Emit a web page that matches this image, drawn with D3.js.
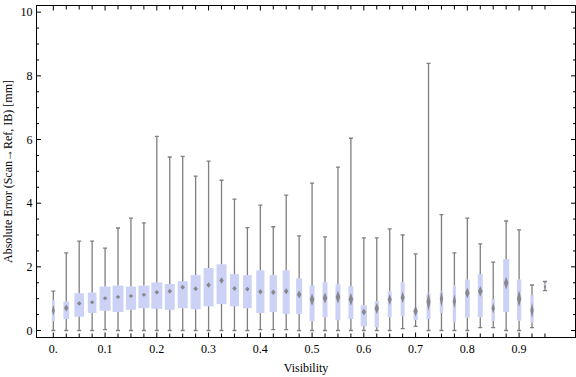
<!DOCTYPE html>
<html>
<head>
<meta charset="utf-8">
<script src="https://cdn.jsdelivr.net/npm/d3@7"></script>
<style>
  body { margin: 0; background: #fff; }
  text { font-family: "Liberation Serif", "DejaVu Serif", serif; fill: #000; }
  .frame { fill: none; stroke: #000; stroke-width: 1; }
  .tick line { stroke: #000; }
  .box { fill: #ccd2f5; }
  .whisker { stroke: #7f7f7f; stroke-width: 1.3; fill: none; }
  .diamond { fill: #7a7a7a; fill-opacity: 0.85; }
</style>
</head>
<body>
<div class="contents"></div>
<script>
// visibility bins (x categories)
var visibility = [0, 0.025, 0.05, 0.075, 0.1, 0.125, 0.15, 0.175, 0.2, 0.225,
                  0.25, 0.275, 0.3, 0.325, 0.35, 0.375, 0.4, 0.425, 0.45, 0.475,
                  0.5, 0.525, 0.55, 0.575, 0.6, 0.625, 0.65, 0.675, 0.7, 0.725,
                  0.75, 0.775, 0.8, 0.825, 0.85, 0.875, 0.9, 0.925, 0.95];

// whisker ends
var whiskerLow = [0, 0, 0, 0, 0.03, 0, 0, 0, 0, 0,
                  0, 0, 0, 0, 0, 0, 0.03, 0.03, 0.03, 0,
                  0, 0, 0, 0, 0, 0, 0, 0.06, 0.13, 0,
                  0, 0, 0, 0.09, 0.09, 0, 0, 0.09, 1.25];
var whiskerHigh = [1.24, 2.44, 2.81, 2.81, 2.59, 3.22, 3.53, 3.38, 6.10, 5.45,
                   5.47, 4.85, 5.32, 4.72, 4.13, 3.23, 3.94, 3.26, 4.25, 2.97,
                   4.63, 2.94, 5.13, 6.04, 2.91, 2.91, 3.19, 3.00, 2.41, 8.39,
                   3.64, 2.44, 3.53, 2.72, 2.15, 3.44, 3.16, 1.43, 1.54];

// quartiles
var q1 = [0.30, 0.36, 0.43, 0.55, 0.62, 0.58, 0.65, 0.70, 0.68, 0.65,
          0.70, 0.67, 0.76, 0.83, 0.76, 0.70, 0.55, 0.58, 0.52, 0.52,
          0.30, 0.42, 0.32, 0.36, 0.13, 0.10, 0.42, 0.45, 0.33, 0.36,
          0.55, 0.26, 0.40, 0.42, 0.30, 0.58, 0.31, 0.24, 1.30];
var q3 = [0.94, 0.91, 1.17, 1.19, 1.38, 1.41, 1.38, 1.41, 1.51, 1.46,
          1.55, 1.74, 1.96, 2.08, 1.77, 1.74, 1.89, 1.74, 1.89, 1.64,
          1.42, 1.52, 1.45, 1.39, 0.79, 0.92, 1.23, 1.52, 0.65, 1.17,
          1.23, 1.41, 1.60, 1.77, 0.99, 2.24, 1.60, 1.11, 1.47];

// mean and half height of its confidence diamond
var mean = [0.63, 0.71, 0.85, 0.89, 1.01, 1.05, 1.08, 1.12, 1.20, 1.23,
            1.36, 1.31, 1.43, 1.57, 1.32, 1.30, 1.22, 1.20, 1.23, 1.13,
            0.97, 1.02, 1.05, 0.98, 0.58, 0.69, 0.97, 1.04, 0.61, 0.90,
            0.99, 0.92, 1.18, 1.23, 0.70, 1.49, 1.00, 0.63, 1.37];
var meanCI = [0.17, 0.11, 0.074, 0.063, 0.063, 0.063, 0.063, 0.063, 0.07, 0.078,
              0.078, 0.078, 0.086, 0.10, 0.078, 0.078, 0.086, 0.086, 0.094, 0.126,
              0.19, 0.17, 0.20, 0.20, 0.11, 0.17, 0.17, 0.18, 0.17, 0.28,
              0.24, 0.22, 0.17, 0.17, 0.16, 0.20, 0.26, 0.24, 0.09];

// relative sample weight (box width)
var boxWeight = [0.27, 0.52, 0.88, 0.79, 1, 1, 0.91, 1, 1, 0.91,
                 0.91, 0.91, 0.91, 0.91, 0.82, 0.79, 0.75, 0.66, 0.64, 0.55,
                 0.45, 0.45, 0.45, 0.45, 0.57, 0.39, 0.36, 0.36, 0.39, 0.36,
                 0.3, 0.3, 0.43, 0.45, 0.3, 0.55, 0.39, 0.3, 0.21];

var xTickLabels = ["0.", "0.1", "0.2", "0.3", "0.4", "0.5", "0.6", "0.7", "0.8", "0.9"];
var yTicks = [0, 2, 4, 6, 8, 10];
var yMinorTicks = [0, 0.5, 1, 1.5, 2, 2.5, 3, 3.5, 4, 4.5, 5, 5.5, 6, 6.5, 7, 7.5, 8, 8.5, 9, 9.5, 10];

var xLabel = "Visibility",
    yLabel = "Absolute Error (Scan\u2192Ref, IB) [mm]";

var svgWidth = 576, svgHeight = 377;
var frame = { left: 36.5, right: 575.5, top: 5.5, bottom: 337.5 };

var svg = d3.select(".contents").append("svg")
    .attr("width", svgWidth)
    .attr("height", svgHeight);

var x = d3.scaleLinear()
    .domain([-0.0325, 1.009])
    .range([frame.left, frame.right]);

var y = d3.scaleLinear()
    .domain([-0.22, 10.21])
    .range([frame.bottom, frame.top]);

var boxW = d3.scaleLinear().domain([0, 1]).range([0, 11]);

var rows = visibility.map(function(v, i) {
    return {
        v: v, lo: whiskerLow[i], hi: whiskerHigh[i],
        q1: q1[i], q3: q3[i], mean: mean[i], ci: meanCI[i], w: boxW(boxWeight[i])
    };
});

// boxes
svg.append("g").selectAll("rect")
    .data(rows)
    .enter().append("rect")
    .attr("class", "box")
    .attr("x", function(d) { return x(d.v) - d.w / 2; })
    .attr("width", function(d) { return d.w; })
    .attr("y", function(d) { return y(d.q3); })
    .attr("height", function(d) { return y(d.q1) - y(d.q3); });

// whiskers with caps
var wg = svg.append("g").selectAll("g")
    .data(rows)
    .enter().append("g");

wg.append("path")
    .attr("class", "whisker")
    .attr("d", function(d) {
        var cx = x(d.v);
        return "M" + cx + "," + y(d.q3) + "V" + y(d.hi) +
               "M" + (cx - 2) + "," + y(d.hi) + "H" + (cx + 2) +
               "M" + cx + "," + y(d.q1) + "V" + y(d.lo) +
               "M" + (cx - 2) + "," + y(d.lo) + "H" + (cx + 2);
    });

// mean diamonds
svg.append("g").selectAll("path")
    .data(rows)
    .enter().append("path")
    .attr("class", "diamond")
    .attr("d", function(d) {
        var cx = x(d.v), cy = y(d.mean),
            hw = Math.min(d.w, 4.5) / 2,
            top = y(d.mean + d.ci), bot = y(d.mean - d.ci);
        return "M" + cx + "," + top + "L" + (cx + hw) + "," + cy +
               "L" + cx + "," + bot + "L" + (cx - hw) + "," + cy + "Z";
    });

// frame
svg.append("rect")
    .attr("class", "frame")
    .attr("x", frame.left)
    .attr("y", frame.top)
    .attr("width", frame.right - frame.left)
    .attr("height", frame.bottom - frame.top);

// y ticks, left and right, pointing inward
var ticks = svg.append("g").attr("class", "tick");
yMinorTicks.forEach(function(t) {
    var len = yTicks.indexOf(t) >= 0 ? 4.5 : 2.5;
    ticks.append("line")
        .attr("x1", frame.left).attr("x2", frame.left + len)
        .attr("y1", y(t)).attr("y2", y(t));
    ticks.append("line")
        .attr("x1", frame.right).attr("x2", frame.right - len)
        .attr("y1", y(t)).attr("y2", y(t));
});

// x ticks, one per bin, bottom and top
visibility.forEach(function(v, i) {
    var len = i % 4 === 0 ? 5 : 4;
    ticks.append("line")
        .attr("x1", x(v)).attr("x2", x(v))
        .attr("y1", frame.bottom).attr("y2", frame.bottom - len);
    ticks.append("line")
        .attr("x1", x(v)).attr("x2", x(v))
        .attr("y1", frame.top).attr("y2", frame.top + len);
});

svg.append("g").selectAll("text")
    .data(yTicks)
    .enter().append("text")
    .attr("x", frame.left - 4)
    .attr("y", function(d) { return y(d); })
    .attr("dy", "0.35em")
    .style("text-anchor", "end")
    .style("font-size", "12px")
    .text(function(d) { return d; });

svg.append("g").selectAll("text")
    .data(xTickLabels)
    .enter().append("text")
    .attr("x", function(d, i) { return x(visibility[i * 4]); })
    .attr("y", frame.bottom + 15)
    .style("text-anchor", "middle")
    .style("font-size", "12px")
    .text(function(d) { return d; });

// axis titles
svg.append("text")
    .attr("x", (frame.left + frame.right) / 2)
    .attr("y", 372)
    .style("text-anchor", "middle")
    .style("font-size", "12px")
    .text(xLabel);

svg.append("text")
    .attr("transform", "translate(12," + ((frame.top + frame.bottom) / 2) + ") rotate(-90)")
    .style("text-anchor", "middle")
    .style("font-size", "12px")
    .text(yLabel);
</script>
</body>
</html>
